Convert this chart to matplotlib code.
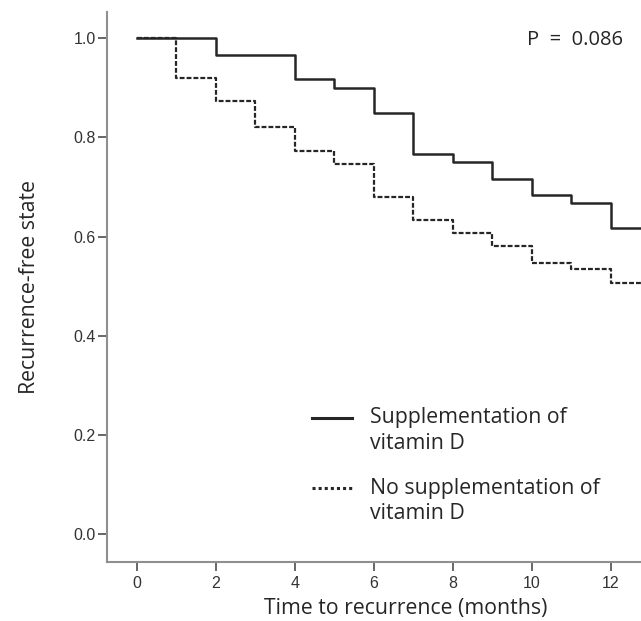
import matplotlib
matplotlib.use("Agg")
import matplotlib.pyplot as plt

# Data
months = [0, 1, 2, 3, 4, 5, 6, 7, 8, 9, 10, 11, 12, 13]
supp = [1.0, 1.0, 0.967, 0.967, 0.917, 0.900, 0.850, 0.767, 0.750, 0.717, 0.683, 0.667, 0.617, 0.617]
no_supp = [1.0, 0.919, 0.874, 0.821, 0.773, 0.747, 0.680, 0.634, 0.607, 0.580, 0.546, 0.534, 0.506, 0.506]
labels = ["Supplementation of\nvitamin D", "No supplementation of\nvitamin D"]
xticks = [0, 2, 4, 6, 8, 10, 12]
yticks = [0.0, 0.2, 0.4, 0.6, 0.8, 1.0]
p_text = "P  =  0.086"

plt.rcParams["font.family"] = ["Liberation Sans", "DejaVu Sans"]
label_font = ["Open Sans", "DejaVu Sans"]
ink = "#262626"
lab_size = 15.3

fig = plt.figure(figsize=(6.41, 6.21), dpi=100)
ax = fig.add_axes([0.1669, 0.095, 0.8331, 0.8857])

ax.step(months, supp, where="post", color=ink, lw=1.8)
ax.step(months, no_supp, where="post", color=ink, lw=1.6, linestyle=(0, (2.2, 0.9)))

ax.set_xlim(-0.76, 12.76)
ax.set_ylim(-0.0565, 1.053)

for s in ["top", "right"]:
    ax.spines[s].set_visible(False)
for s in ["left", "bottom"]:
    ax.spines[s].set_color("#8f8f8f")
    ax.spines[s].set_linewidth(1.5)

ax.set_xticks(xticks)
ax.set_yticks(yticks)
ax.set_yticklabels([f"{v:.1f}" for v in yticks])
ax.tick_params(axis="both", colors="#666666", labelcolor="#333333", width=1.4, length=6.5,
               labelsize=11.5)
ax.tick_params(axis="y", pad=1.5)
ax.tick_params(axis="x", pad=3.5)

ax.set_xlabel("Time to recurrence (months)", fontsize=lab_size, family=label_font, color=ink, labelpad=5)
ax.xaxis.set_label_coords(0.56, -0.066)
ax.set_ylabel("Recurrence-free state", fontsize=lab_size, family=label_font, color=ink, labelpad=24)

ax.text(0.877, 0.949, p_text, transform=ax.transAxes, ha="center", va="center",
        fontsize=14.5, family=label_font, color=ink)

# Manual legend (handle aligned with first text line, as in the reference)
styles = ["-", (0, (1, 1))]
leg_y = [0.262, 0.1345]
pitch = 0.0465
for lab, ls, y0 in zip(labels, styles, leg_y):
    ax.plot([0.384, 0.459], [y0, y0], transform=ax.transAxes, color=ink, lw=2.2,
            linestyle=ls, clip_on=False)
    for i, line in enumerate(lab.split("\n")):
        ax.text(0.4925, y0 - i * pitch, line, transform=ax.transAxes, ha="left",
                va="center", fontsize=lab_size, family=label_font, color=ink)

fig.savefig("out.png", dpi=100, facecolor="white")
